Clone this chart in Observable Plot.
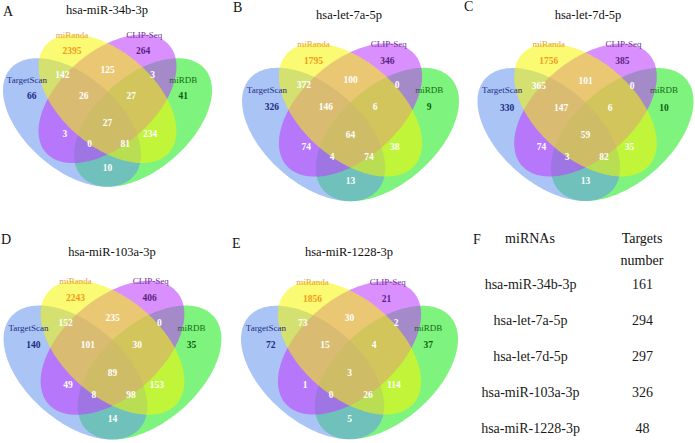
<!DOCTYPE html>
<html><head><meta charset="utf-8">
<script src="https://cdn.jsdelivr.net/npm/d3@7"></script>
<script src="https://cdn.jsdelivr.net/npm/@observablehq/plot@0.6"></script>
<style>
html,body{margin:0;padding:0;background:#fff;}
#page{position:relative;width:695px;height:443px;font-family:"Liberation Serif","Times New Roman",serif;overflow:hidden;background:#fff;color:#111}
.abs{position:absolute;white-space:nowrap;line-height:1}
.abs svg{display:block}
</style></head><body><div id="page"></div>
<script>
// ---------------- data ----------------
const setNames = ["TargetScan", "miRanda", "CLIP-Seq", "miRDB"];
// region order: T, M, C, D (single sets), TM, MC, CD, TMC, MCD, TMCD, TC, TCD, TMD, MD, TD
const regionKeys = ["T","M","C","D","TM","MC","CD","TMC","MCD","TMCD","TC","TCD","TMD","MD","TD"];
const panelLetters = ["A", "B", "C", "D", "E"];
const mirnas = ["hsa-miR-34b-3p", "hsa-let-7a-5p", "hsa-let-7d-5p", "hsa-miR-103a-3p", "hsa-miR-1228-3p"];
const counts34b  = [66, 2395, 264, 41, 142, 125, 3, 26, 27, 27, 3, 0, 81, 234, 10];
const counts7a   = [326, 1795, 346, 9, 372, 100, 0, 146, 6, 64, 74, 4, 74, 38, 13];
const counts7d   = [330, 1756, 385, 10, 365, 101, 0, 147, 6, 59, 74, 3, 82, 35, 13];
const counts103a = [140, 2243, 406, 35, 152, 235, 0, 101, 30, 89, 49, 8, 98, 153, 14];
const counts1228 = [72, 1856, 21, 37, 73, 30, 2, 15, 4, 3, 1, 0, 26, 114, 5];
const tableHeaders = ["miRNAs", "Targets", "number"];
const targetsNumber = [161, 294, 297, 326, 48];

// ---------------- layout template (Venn units, y up) ----------------
const ELL_A = 0.345, ELL_B = 0.198, TILT = 41;
const ellipses = [ // drawing order bottom -> top
  {set: "miRDB",      cx: 0.65, cy: 0.47, ang: TILT,       fill: "#14eb14", op: 0.55},
  {set: "TargetScan", cx: 0.35, cy: 0.47, ang: 180 - TILT, fill: "#6495ed", op: 0.55},
  {set: "CLIP-Seq",   cx: 0.50, cy: 0.57, ang: TILT,       fill: "#bf3eff", op: 0.58},
  {set: "miRanda",    cx: 0.50, cy: 0.57, ang: 180 - TILT, fill: "#f5f500", op: 0.55}
];
const regionPos = {T:[0.18,0.58], M:[0.35,0.77], C:[0.65,0.77], D:[0.82,0.58],
  TM:[0.31,0.67], MC:[0.5,0.69], CD:[0.69,0.67], TMC:[0.40,0.58], MCD:[0.60,0.58],
  TMCD:[0.5,0.47], TC:[0.32,0.42], TCD:[0.425,0.38], TMD:[0.575,0.38], MD:[0.68,0.42], TD:[0.5,0.28]};
const singleColor = {T: "#1c2a80", M: "#f29a1c", C: "#5c1f80", D: "#0d5e0d"};
const catPos = {"TargetScan": [0.16,0.65], "miRanda": [0.35,0.838], "CLIP-Seq": [0.655,0.838], "miRDB": [0.82,0.65]};
const catColor = {"TargetScan": "#1f2c86", "miRanda": "#eba040", "CLIP-Seq": "#6d2f94", "miRDB": "#156815"};

// page placement of each panel: venn centre (px), px per unit, title & letter positions
const panels = [
  {counts: counts34b,  cx: 107, cy: 122, s: 237, title: [107, 11],  letter: [3, 5]},
  {counts: counts7a,   cx: 349.5, cy: 133.5, s: 246, title: [349, 16],  letter: [233, 1]},
  {counts: counts7d,   cx: 585, cy: 133.5, s: 245, title: [588, 16],  letter: [464, 0]},
  {counts: counts103a, cx: 112, cy: 372, s: 247, title: [112, 253], letter: [1, 233]},
  {counts: counts1228, cx: 349, cy: 372, s: 246, title: [349, 253], letter: [232, 237]}
];

const page = document.getElementById("page");
function place(node, left, top) {
  const d = document.createElement("div");
  d.className = "abs"; d.style.left = left + "px"; d.style.top = top + "px";
  d.appendChild(node); page.appendChild(d); return d;
}
function label(text, x, y, css) {
  const s = document.createElement("span");
  s.textContent = text;
  const d = place(s, x, y);
  Object.assign(d.style, css || {});
  return d;
}

function ellipsePoints(e) {
  const pts = [], phi = e.ang * Math.PI / 180;
  for (let i = 0; i < 180; i++) {
    const t = 2 * Math.PI * i / 180;
    pts.push({u: e.cx + ELL_A * Math.cos(t) * Math.cos(phi) - ELL_B * Math.sin(t) * Math.sin(phi),
              v: e.cy + ELL_A * Math.cos(t) * Math.sin(phi) + ELL_B * Math.sin(t) * Math.cos(phi)});
  }
  return pts;
}

const FONT = "Liberation Serif, Times New Roman, serif";

panels.forEach((p, k) => {
  const W = 236, Htop = 104, Hbot = 80, H = Htop + Hbot;
  const left = p.cx - W / 2, top = p.cy - Htop;
  const xDom = [0.5 - (W / 2) / p.s, 0.5 + (W / 2) / p.s];
  const yDom = [0.47 - Hbot / p.s, 0.47 + Htop / p.s];
  const regions = regionKeys.map((key, i) => ({key, n: String(p.counts[i]), u: regionPos[key][0], v: regionPos[key][1], single: key.length === 1}));
  const cats = setNames.map(name => ({name, u: catPos[name][0], v: catPos[name][1]}));
  const marks = ellipses.map(e => Plot.line(ellipsePoints(e), {x: "u", y: "v", curve: "linear-closed", stroke: "none", fill: e.fill, fillOpacity: e.op}));
  marks.push(Plot.text(cats, {x: "u", y: "v", text: "name", fill: d => catColor[d.name], fontSize: 9, fontFamily: FONT}));
  marks.push(Plot.text(regions.filter(d => d.single), {x: "u", y: "v", text: "n", fill: d => singleColor[d.key], fontSize: 9.5, fontWeight: "bold", fontFamily: FONT}));
  marks.push(Plot.text(regions.filter(d => !d.single), {x: "u", y: "v", text: "n", fill: "white", fontSize: 9.5, fontWeight: "bold", fontFamily: FONT}));
  const svg = Plot.plot({
    width: W, height: H, margin: 0,
    x: {domain: xDom, range: [0, W], axis: null},
    y: {domain: yDom, range: [H, 0], axis: null},
    style: {background: "transparent", maxWidth: "none", fontFamily: FONT},
    marks
  });
  place(svg, left, top);
  label(mirnas[k], p.title[0], p.title[1] - 7, {fontSize: "12.5px", transform: "translateX(-50%)"});
  label(panelLetters[k], p.letter[0], p.letter[1], {fontSize: "14px"});
});

// ---------------- table F ----------------
const rows = mirnas.map((m, i) => ({m, n: String(targetsNumber[i])}));
const tbl = Plot.plot({
  width: 235, height: 223, margin: 0,
  x: {type: "point", domain: ["name", "count"], range: [70, 182], padding: 0, axis: null},
  y: {type: "point", domain: mirnas, range: [62, 209], padding: 0, axis: null},
  style: {background: "transparent", maxWidth: "none", fontFamily: FONT},
  marks: [
    Plot.text(rows, {x: () => "name", y: "m", text: "m", fontSize: 14, fontFamily: FONT, fill: "#1a1a1a"}),
    Plot.text(rows, {x: () => "count", y: "m", text: "n", fontSize: 14, fontFamily: FONT, fill: "#1a1a1a"})
  ]
});
place(tbl, 460, 220);
label("F", 473, 233, {fontSize: "14px"});
label(tableHeaders[0], 530, 232, {fontSize: "14px", transform: "translateX(-50%)"});
label(tableHeaders[1], 642, 232, {fontSize: "14px", transform: "translateX(-50%)"});
label(tableHeaders[2], 642, 254, {fontSize: "14px", transform: "translateX(-50%)"});
</script></body></html>
